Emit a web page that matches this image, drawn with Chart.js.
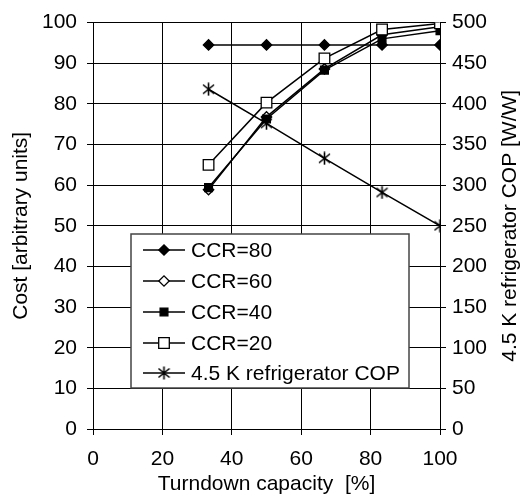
<!DOCTYPE html>
<html>
<head>
<meta charset="utf-8">
<script src="https://cdn.jsdelivr.net/npm/chart.js@4.4.1/dist/chart.umd.min.js"></script>
<style>
html,body{margin:0;padding:0;background:#fff;}
#wrap{width:532px;height:499px;position:relative;}
</style>
</head>
<body>
<div id="wrap"><canvas id="c" width="532" height="499"></canvas></div>
<script>
// ---- data ----
const turndown = [33.3, 50, 66.7, 83.3, 100];
const ccr80 = [94.5, 94.5, 94.5, 94.5, 94.5];
const ccr60 = [58.9, 76.8, 88.6, 97, 99];
const ccr40 = [59.4, 76.3, 88.3, 96, 98];
const ccr20 = [65, 80.3, 91.2, 98.3, 99.8];
const cop = [418, 376, 333, 291, 250];
const seriesNames = ['CCR=80', 'CCR=60', 'CCR=40', 'CCR=20', '4.5 K refrigerator COP'];
const xTitle = 'Turndown capacity  [%]';
const yTitle = 'Cost [arbitrary units]';
const y1Title = '4.5 K refrigerator COP [W/W]';

const FONT = "'Liberation Sans', Arial, sans-serif";
const FS = 21;

// asterisk marker (vertical bar + X)
function makeAsterisk() {
  const c = document.createElement('canvas');
  c.width = 13; c.height = 14;
  const g = c.getContext('2d');
  g.strokeStyle = '#000'; g.lineWidth = 1.6;
  g.beginPath();
  g.moveTo(6.5, 0.5); g.lineTo(6.5, 13.5);
  g.moveTo(1, 2.5); g.lineTo(12, 11.5);
  g.moveTo(12, 2.5); g.lineTo(1, 11.5);
  g.stroke();
  return c;
}
const asterisk = makeAsterisk();

function pts(arr) { return turndown.map((x, i) => ({x: x, y: arr[i]})); }

const styles = [
  {pointStyle: 'rectRot', radius: 5.2, bg: '#000', order: 2},
  {pointStyle: 'rectRot', radius: 5.2, bg: '#fff', order: 3},
  {pointStyle: 'rect', radius: 5.5, bg: '#000', order: 1},
  {pointStyle: 'rect', radius: 7.5, bg: '#fff', order: 0},
  {pointStyle: asterisk, radius: 6, bg: '#000', order: 0}
];

const datasets = [ccr80, ccr60, ccr40, ccr20].map((arr, i) => ({
  label: seriesNames[i],
  data: pts(arr),
  yAxisID: 'y',
  order: styles[i].order,
  borderColor: '#000',
  borderWidth: 1.5,
  pointStyle: styles[i].pointStyle,
  pointRadius: styles[i].radius,
  pointBackgroundColor: styles[i].bg,
  pointBorderColor: '#000',
  pointBorderWidth: 1.3,
  tension: 0,
  fill: false
}));
datasets.push({
  label: seriesNames[4],
  data: pts(cop),
  yAxisID: 'y1',
  order: 0,
  borderColor: '#000',
  borderWidth: 1.5,
  pointStyle: asterisk,
  pointRadius: 6,
  pointBorderColor: '#000',
  tension: 0,
  fill: false
});

const customDecor = {
  id: 'customDecor',
  afterDraw(chart) {
    const ctx = chart.ctx;
    const area = chart.chartArea;
    ctx.save();
    // right axis title, reading bottom-to-top
    ctx.fillStyle = '#000';
    ctx.font = FS + 'px ' + FONT;
    ctx.textAlign = 'center';
    ctx.textBaseline = 'middle';
    ctx.translate(510, (area.top + area.bottom) / 2);
    ctx.rotate(-Math.PI / 2);
    ctx.fillText(y1Title, 0, 0);
    ctx.restore();

    // legend box
    ctx.save();
    const L = 131, T = 234, R = 409, B = 388;
    ctx.fillStyle = '#fff';
    ctx.fillRect(L, T, R - L, B - T);
    ctx.strokeStyle = '#444';
    ctx.lineWidth = 1.5;
    ctx.strokeRect(L, T, R - L, B - T);
    const rows = [250, 281, 312, 343, 373];
    ctx.font = FS + 'px ' + FONT;
    ctx.textAlign = 'left';
    ctx.textBaseline = 'middle';
    for (let i = 0; i < 5; i++) {
      const y = rows[i];
      ctx.strokeStyle = '#000';
      ctx.lineWidth = 1.5;
      ctx.beginPath();
      ctx.moveTo(143, y); ctx.lineTo(185, y);
      ctx.stroke();
      const st = styles[i];
      ctx.fillStyle = st.bg;
      ctx.strokeStyle = '#000';
      ctx.lineWidth = 1.3;
      Chart.helpers.drawPoint(ctx, {pointStyle: st.pointStyle, radius: st.radius, rotation: 0, borderWidth: 1.3}, 164, y);
      ctx.fillStyle = '#000';
      ctx.fillText(seriesNames[i], 191, y + 1);
    }
    ctx.restore();
  }
};

new Chart(document.getElementById('c'), {
  type: 'line',
  data: {datasets: datasets},
  options: {
    responsive: false,
    animation: false,
    layout: {padding: {top: 15, left: 0, right: 0, bottom: 0}},
    plugins: {legend: {display: false}, tooltip: {enabled: false}},
    scales: {
      x: {
        type: 'linear', min: 0, max: 100,
        ticks: {stepSize: 20, color: '#000', font: {family: FONT, size: FS}, padding: 12, maxRotation: 0},
        grid: {display: true, drawOnChartArea: true, drawTicks: true, color: 'rgba(0,0,0,1)', lineWidth: 1, tickLength: 6, tickColor: '#000'},
        border: {color: '#000', width: 1},
        title: {display: true, text: xTitle, color: '#000', font: {family: FONT, size: FS}, padding: {top: 0, bottom: 2}},
        afterFit(s) { s.height = 70; }
      },
      y: {
        type: 'linear', position: 'left', min: 0, max: 100,
        ticks: {stepSize: 10, color: '#000', font: {family: FONT, size: FS}, padding: 10},
        grid: {display: true, drawOnChartArea: true, drawTicks: true, color: 'rgba(0,0,0,1)', lineWidth: 1, tickLength: 6, tickColor: '#000'},
        border: {color: '#000', width: 1},
        title: {display: true, text: yTitle, color: '#000', font: {family: FONT, size: FS}, padding: {top: 9, bottom: 0}},
        afterFit(s) { s.width = 93; }
      },
      y1: {
        type: 'linear', position: 'right', min: 0, max: 500,
        ticks: {stepSize: 50, color: '#000', font: {family: FONT, size: FS}, padding: 6},
        grid: {drawOnChartArea: false, tickLength: 6, tickColor: '#000', color: '#000'},
        border: {color: '#000', width: 1},
        afterFit(s) { s.width = 92; }
      }
    }
  },
  plugins: [customDecor]
});
</script>
</body>
</html>
